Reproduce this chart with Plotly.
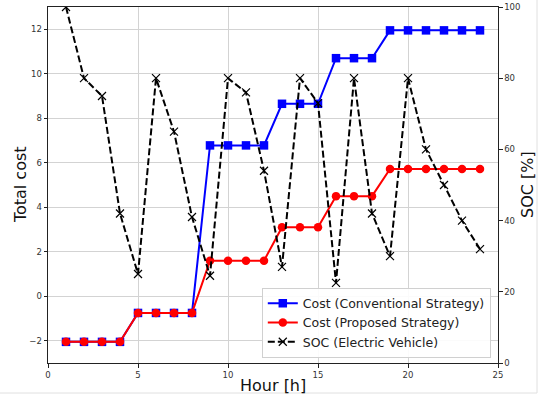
import plotly.graph_objects as go

hours = list(range(1, 25))
cost_conventional = [-2.05, -2.05, -2.05, -2.05, -0.75, -0.75, -0.75, -0.75,
                     6.78, 6.78, 6.78, 6.78, 8.65, 8.65, 8.65, 10.7, 10.7, 10.7,
                     11.95, 11.95, 11.95, 11.95, 11.95, 11.95]
cost_proposed = [-2.05, -2.05, -2.05, -2.05, -0.75, -0.75, -0.75, -0.75,
                 1.6, 1.6, 1.6, 1.6, 3.1, 3.1, 3.1, 4.5, 4.5, 4.5,
                 5.72, 5.72, 5.72, 5.72, 5.72, 5.72]
soc = [100, 80, 75, 42, 25, 80, 65, 41, 24.5, 80, 76, 54,
       27, 80, 73, 22.5, 80, 42, 30, 80, 60, 50, 40, 32]

FONT = "DejaVu Sans"
fig = go.Figure()
fig.add_trace(go.Scatter(x=hours, y=cost_conventional, mode="lines+markers",
                         name="Cost (Conventional Strategy)",
                         line=dict(color="#0000ff", width=2),
                         marker=dict(symbol="square", size=8.5, color="#0000ff"),
                         yaxis="y"))
fig.add_trace(go.Scatter(x=hours, y=cost_proposed, mode="lines+markers",
                         name="Cost (Proposed Strategy)",
                         line=dict(color="#ff0000", width=2),
                         marker=dict(symbol="circle", size=8.5, color="#ff0000"),
                         yaxis="y"))
fig.add_trace(go.Scatter(x=hours, y=soc, mode="lines+markers",
                         name="SOC (Electric Vehicle)",
                         line=dict(color="black", width=2, dash="7px,3px"),
                         marker=dict(symbol="x-thin", size=8,
                                     line=dict(color="black", width=1.2)),
                         yaxis="y2"))

axis_common = dict(showline=True, linecolor="#222", linewidth=1,
                   ticks="outside", ticklen=3.5, tickcolor="#222",
                   tickfont=dict(family=FONT, size=8.5, color="#333"),
                   zeroline=False, automargin=False)

title_font = dict(family=FONT, size=16, color="#111")

fig.update_layout(
    width=543, height=395,
    margin=dict(l=48, r=45, t=7, b=32),
    paper_bgcolor="white", plot_bgcolor="white",
    font=dict(family=FONT),
    showlegend=True,
    legend=dict(x=0.984, xanchor="right", y=0.015, yanchor="bottom",
                bgcolor="rgba(255,255,255,0.9)", bordercolor="#d0d0d0",
                borderwidth=1, font=dict(family=FONT, size=12.5, color="#222"),
                tracegroupgap=0, itemwidth=30),
    xaxis=dict(range=[0, 25], tickvals=[0, 5, 10, 15, 20, 25], mirror=True,
               showgrid=True, gridcolor="#d3d3d3", gridwidth=1,
               **axis_common),
    yaxis=dict(range=[-3, 13], tickvals=[-2, 0, 2, 4, 6, 8, 10, 12],
               showgrid=True, gridcolor="#d3d3d3", gridwidth=1,
               **axis_common),
    yaxis2=dict(range=[0, 100], tickvals=[0, 20, 40, 60, 80, 100],
                overlaying="y", side="right", showgrid=False,
                **axis_common),
    annotations=[
        dict(text="Hour [h]", xref="paper", yref="paper", x=0.5, y=-0.062,
             showarrow=False, font=title_font, xanchor="center", yanchor="middle"),
        dict(text="Total cost", xref="paper", yref="paper", x=-0.062, y=0.5,
             showarrow=False, font=title_font, textangle=-90,
             xanchor="center", yanchor="middle"),
        dict(text="SOC [%]", xref="paper", yref="paper", x=1.0645, y=0.5,
             showarrow=False, font=title_font, textangle=-90,
             xanchor="center", yanchor="middle"),
    ],
    shapes=[
        dict(type="line", xref="paper", yref="paper", x0=1.0867, x1=1.0867,
             y0=-0.0843, y1=1.03, line=dict(color="#e0e0e0", width=1)),
        dict(type="line", xref="paper", yref="paper", x0=-0.11, x1=1.0867,
             y0=-0.0843, y1=-0.0843, line=dict(color="#e0e0e0", width=1)),
    ],
)

fig.write_html("out.html", config={"displayModeBar": False},
               post_script="document.body.style.margin='0';document.body.style.overflow='hidden';")
